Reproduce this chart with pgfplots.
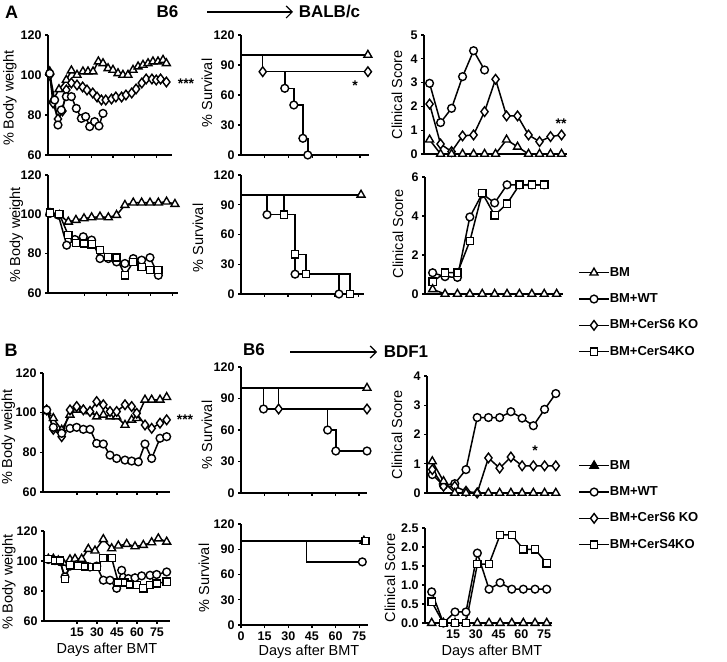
\documentclass[border=0pt]{standalone}
\usepackage{fontspec}
\setmainfont{Liberation Sans}
\usepackage{pgfplots}
\pgfplotsset{compat=1.18}
\usetikzlibrary{arrows.meta}
\pgfplotsset{
  panel/.style={scale only axis, anchor=south west,
    axis x line*=bottom, axis y line*=left,
    axis line style={line width=1.6pt,-},
    tick style={black,line width=1.3pt},
    tick align=outside, major tick length=3pt,
    ticklabel style={font=\bfseries\fontsize{12.5}{14}\selectfont},
    /pgf/number format/assume math mode=true,
    clip=false},
  noxl/.style={xticklabels={,,,,,,}},
  bm/.style={black,line width=1.5pt,mark=triangle*,mark size=4.6pt,mark options={fill=white,line width=1.4pt,solid}},
  wt/.style={black,line width=1.5pt,mark=*,mark size=3.9pt,mark options={fill=white,line width=1.4pt,solid}},
  s6/.style={black,line width=1.5pt,mark=diamond*,mark size=4.8pt,mark options={fill=white,line width=1.4pt,solid}},
  s4/.style={black,line width=1.5pt,mark=square*,mark size=3.6pt,mark options={fill=white,line width=1.4pt,solid}},
  mylegend/.style={legend cell align=left,
    legend image code/.code={\draw[mark repeat=2,mark phase=2,##1] plot coordinates {(0pt,0pt) (15pt,0pt) (30pt,0pt)};},
    legend style={draw=none,fill=none,inner sep=0pt,row sep=13.3pt,
      font=\bfseries\fontsize{13}{15}\selectfont,
      nodes={inner sep=0pt,text height=10pt,text depth=3pt},
      /tikz/every even column/.append style={column sep=9pt}}},
}
\newcommand{\ylab}[3]{\node[rotate=90,font=\fontsize{14.5}{16}\selectfont] at (#1pt,#2pt) {#3};}
\begin{document}
\begin{tikzpicture}
\useasboundingbox (0,0) rectangle (727pt,661pt);
% ---------------- headers
\node[font=\bfseries\fontsize{18}{20}\selectfont] at (11.5pt,649pt) {A};
\node[font=\bfseries\fontsize{17}{20}\selectfont] at (167.5pt,649pt) {B6};
\draw[line width=1.2pt,-{Straight Barb[length=6pt,width=12pt,line width=1.2pt]}] (207pt,649pt) -- (293pt,649pt);
\node[font=\bfseries\fontsize{17}{20}\selectfont] at (329.5pt,649pt) {BALB/c};
\node[font=\bfseries\fontsize{18}{20}\selectfont] at (11pt,311pt) {B};
\node[font=\bfseries\fontsize{17}{20}\selectfont] at (254pt,311pt) {B6};
\draw[line width=1.2pt,-{Straight Barb[length=6pt,width=12pt,line width=1.2pt]}] (290pt,309pt) -- (377pt,309pt);
\node[font=\bfseries\fontsize{17}{20}\selectfont] at (406pt,309pt) {BDF1};
% ---------------- axis labels
\ylab{10}{563}{\% Body weight}
\ylab{16.5}{426}{\% Body weight}
\ylab{8.5}{224}{\% Body weight}
\ylab{9}{79}{\% Body weight}
\ylab{207}{568}{\% Survival}
\ylab{198}{423}{\% Survival}
\ylab{207}{226}{\% Survival}
\ylab{204}{83}{\% Survival}
\ylab{397}{566}{Clinical Score}
\ylab{398}{427}{Clinical Score}
\ylab{397}{226}{Clinical Score}
\ylab{390}{83}{Clinical Score}
\node[font=\fontsize{14.5}{16}\selectfont] at (107pt,11pt) {Days after BMT};
\node[font=\fontsize{14.5}{16}\selectfont] at (309pt,9pt) {Days after BMT};
\node[font=\fontsize{14.5}{16}\selectfont] at (492pt,9pt) {Days after BMT};
% asterisks
\node[font=\bfseries\fontsize{14}{16}\selectfont] at (186pt,577pt) {***};
\node[font=\bfseries\fontsize{14}{16}\selectfont] at (355pt,575pt) {*};
\node[font=\bfseries\fontsize{14}{16}\selectfont] at (561pt,537pt) {**};
\node[font=\bfseries\fontsize{14}{16}\selectfont] at (185pt,241pt) {***};
\node[font=\bfseries\fontsize{14}{16}\selectfont] at (535pt,210pt) {*};

% ================= A1 body weight
\begin{axis}[panel, at={(48pt,506pt)}, width=124pt, height=120pt,
  xmin=0, xmax=85.9, ymin=60, ymax=120, ytick={60,80,100,120},
  xtick={15,30,45,60,75}, noxl]
\addplot[bm] coordinates {(1.2,101.7)(3.5,87.5)(7.6,92.8)(12.7,97.5)(16.2,102.2)(20.1,100)(24.2,101.7)(27.7,101.7)(31.2,101.7)(34.9,106.7)(38.1,105.8)(41.6,103.3)(45,102.5)(48.5,100.8)(51.9,100)(55.4,100)(58.9,102.5)(62.4,104.2)(65.8,105)(69.3,105.8)(72.7,106.7)(76.2,106.7)(79.7,107.5)(82,105.8)};
\addplot[s6] coordinates {(1.2,100)(3.5,86)(6.9,78)(10,82)(12.7,92.5)(16.2,96)(20.1,95)(24,94)(27,92.5)(31,91)(34,89)(37,87.5)(40,87.5)(44,88)(47,89)(51,89)(54,90)(58,91)(61,93)(65,96)(68,98)(72,98)(75,97.5)(78,98)(82,96.5)};
\addplot[wt] coordinates {(1.2,100.8)(4.6,87.5)(6.9,75)(9.2,82.5)(12.7,89.2)(16.2,89.2)(19.6,83.3)(23.1,78.3)(26.1,79.2)(28.9,74.2)(32.3,76.7)(35.3,74.5)(38.1,80.8)};
\end{axis}

% ================= A2 body weight
\begin{axis}[panel, at={(48pt,368pt)}, width=130pt, height=118pt,
  xmin=-9.75, xmax=78.9, ymin=60, ymax=120, ytick={60,80,100,120},
  xtick={15,30,45,60,75}, noxl]
\addplot[bm] coordinates {(-8.4,100.5)(-2,99.6)(4.1,96.2)(9.3,97.1)(14.8,97.9)(20,98.4)(25.7,98.8)(31.4,98.4)(37,99.6)(42.7,104.7)(48.4,105.9)(54.1,105.9)(59.8,105.9)(65.5,105.9)(71.1,106.4)(76.8,105.2)};
\addplot[wt] coordinates {(-8.4,100.5)(-2.7,99.6)(3,84.3)(8.6,87.2)(14.3,88.6)(20,86.9)(25.7,77.5)(31.4,77.5)(37,75.8)(42.7,75)(48.4,77.5)(54.1,76.7)(59.8,78)(65.5,69)};
\addplot[s4] coordinates {(-8.4,100.8)(-2,100.1)(4.1,89.4)(9.3,85.5)(14.8,85.2)(20,84.8)(25.7,81.8)(31.4,78.4)(37,78)(42.7,69)(48.4,75.8)(54.1,73.3)(59.8,71.6)(65.5,71.6)};
\end{axis}

% ================= A1 survival
\begin{axis}[panel, at={(241pt,506pt)}, width=128pt, height=120pt,
  xmin=0, xmax=80.7, ymin=0, ymax=120, ytick={0,30,60,90,120},
  xtick={15,30,45,60,75}, noxl]
\addplot[bm,mark=none] coordinates {(0,100)(80,100)};
\addplot[s6,mark=none,const plot] coordinates {(0,100)(13.7,83.3)(80,83.3)};
\addplot[wt,mark=none,const plot] coordinates {(0,100)(13.7,83.3)(27.6,66.7)(33.3,50)(39,16.7)(42.1,0)};
\addplot[bm,only marks] coordinates {(80,100)};
\addplot[s6,only marks] coordinates {(13.7,83.3)(80,83.3)};
\addplot[wt,only marks] coordinates {(27.6,66.7)(33.3,50)(39,16.7)(42.1,0)};
\end{axis}

% ================= A2 survival
\begin{axis}[panel, at={(241pt,367pt)}, width=123pt, height=119pt,
  xmin=0, xmax=78.5, ymin=0, ymax=120, ytick={0,30,60,90,120},
  xtick={15,30,45,60,75}, noxl]
\addplot[bm,mark=none] coordinates {(0,100)(76.6,100)};
\addplot[wt,mark=none,const plot] coordinates {(0,100)(16.6,80)(34.5,20)(62.5,0)};
\addplot[s4,mark=none,const plot] coordinates {(0,100)(27.4,80)(34.5,40)(41.5,20)(69.6,0)};
\addplot[bm,only marks] coordinates {(76.6,100)};
\addplot[wt,only marks] coordinates {(16.6,80)(34.5,20)(62.5,0)};
\addplot[s4,only marks] coordinates {(27.4,80)(34.5,40)(41.5,20)(69.6,0)};
\end{axis}

% ================= A1 clinical
\begin{axis}[panel, at={(424pt,507pt)}, width=143pt, height=119pt,
  xmin=-2.55, xmax=88.5, ymin=0, ymax=5, ytick={0,1,2,3,4,5}, xtick=\empty]
\addplot[wt] coordinates {(1,2.97)(8,1.32)(15,1.92)(22,3.25)(29,4.34)(36,3.53)};
\addplot[s6] coordinates {(1,2.1)(8,0.42)(15,0.1)(22,0.76)(29,0.8)(36,1.78)(43,3.14)(50,1.6)(57,1.6)(64,0.8)(71,0.52)(78,0.73)(85,0.8)};
\addplot[bm] coordinates {(1,0.6)(8,0)(15,0)(22,0)(29,0)(36,0)(43,0)(50,0.6)(57,0.3)(64,0)(71,0)(78,0)(85,0)};
\end{axis}

% ================= A2 clinical (+ legend A)
\begin{axis}[panel, at={(425pt,367pt)}, width=138pt, height=117pt,
  xmin=-3.3, xmax=74.6, ymin=0, ymax=6, ytick={0,2,4,6}, xtick=\empty,
  mylegend, legend style={at={(1.109,0.239)},anchor=north west}]
\addlegendimage{bm}\addlegendentry{BM}
\addlegendimage{wt}\addlegendentry{BM+WT}
\addlegendimage{s6}\addlegendentry{BM+CerS6 KO}
\addlegendimage{s4}\addlegendentry{BM+CerS4KO}
\addplot[wt,forget plot] coordinates {(1,1.09)(8,0.89)(15,0.85)(22,3.95)(29,5.14)(36,4.67)(43,5.6)(50,5.6)(57,5.6)(64,5.6)};
\addplot[s4,forget plot] coordinates {(1,0.63)(8,1.09)(15,1.09)(22,2.71)(29,5.18)(36,4.04)(43,4.63)(50,5.6)(57,5.6)(64,5.6)};
\addplot[bm,forget plot] coordinates {(1,0.24)(8,0)(15,0)(22,0)(29,0)(36,0)(43,0)(50,0)(57,0)(64,0)(71,0)};
\end{axis}

% ================= B1 body weight
\begin{axis}[panel, at={(43pt,169pt)}, width=127pt, height=119pt,
  xmin=-10.5, xmax=84.75, ymin=60, ymax=120, ytick={60,80,100,120},
  xtick={15,30,45,60,75}, noxl]
\addplot[bm] coordinates {(-7.75,100.6)(-2.75,97.2)(3.5,91.3)(9.75,98.9)(14.75,101.4)(19.75,101.4)(24.75,100.6)(29.75,98)(34.75,98.9)(39.75,98)(44.75,98)(51,93.8)(56,96.4)(59.75,97.2)(66,106.5)(71,106.5)(77.25,106.5)(82.25,107.8)};
\addplot[s6] coordinates {(-7.75,101.4)(-2.75,91.6)(3.5,87.9)(9.75,101.4)(14.75,103.1)(19.75,101.4)(24.75,100.6)(29.75,105.6)(34.75,104)(39.75,100.6)(44.75,100.6)(51,104)(56,103.1)(59.75,99.7)(66,93.8)(71,92.1)(77.25,94.7)(82.25,96.4)};
\addplot[wt] coordinates {(-7.75,101.4)(-2.75,92.6)(3.5,89.6)(9.75,92.1)(14.75,92.6)(19.75,91.6)(24.75,91.6)(29.75,84.5)(34.75,84.2)(39.75,78.6)(44.75,76.9)(51,76.1)(56,75.6)(61,75.2)(66,84.2)(71,76.9)(77.25,87.1)(82.25,87.9)};
\end{axis}

% ================= B2 body weight
\begin{axis}[panel, at={(44pt,40pt)}, width=126pt, height=90pt,
  xmin=-9.75, xmax=84.75, ymin=60, ymax=120, ytick={60,80,100,120},
  xtick={15,30,45,60,75}]
\addplot[bm] coordinates {(-6.5,101.4)(-2.75,101.4)(1,100.3)(4.75,98.8)(9.75,101)(13.5,101.4)(18.5,101.4)(23.5,108)(28.5,106.9)(34.75,114.5)(41,108.4)(46,110.2)(52.25,111.3)(58.5,109.7)(64.75,110.6)(71,112.4)(76,115)(82.25,112.8)};
\addplot[wt] coordinates {(-6.5,101)(-1.5,100.3)(2.25,99.7)(6,89.4)(9.75,96.6)(14.75,97.5)(19.75,96.6)(24.75,96)(29.75,96.6)(34.75,87.2)(39.75,87.2)(44.75,81.8)(48.5,93.8)(53.5,88.3)(58.5,88.8)(63.5,90.1)(69.75,90.5)(74.75,91)(82.25,92.7)};
\addplot[s4] coordinates {(-6.5,101.4)(-1.5,100.3)(2.25,100.3)(6,87.9)(9.75,97.1)(16,96.6)(21,96.4)(26,96)(29.75,96)(34.75,101.9)(41,101.9)(46,85.7)(51,85.7)(54.75,84.4)(59.75,84)(64.75,81.8)(69.75,84)(74.75,85)(82.25,86.2)};
\end{axis}

% ================= B1 survival
\begin{axis}[panel, at={(241pt,168pt)}, width=126pt, height=126pt,
  xmin=0, xmax=80, ymin=0, ymax=120, ytick={0,30,60,90,120},
  xtick={15,30,45,60,75}, noxl]
\addplot[bm,mark=none] coordinates {(0,100)(80,100)};
\addplot[s6,mark=none,const plot] coordinates {(0,100)(23.9,80)(80,80)};
\addplot[wt,mark=none,const plot] coordinates {(0,100)(14.3,80)(55,60)(60.2,40)(80,40)};
\addplot[bm,only marks] coordinates {(80,100)};
\addplot[s6,only marks] coordinates {(23.9,80)(80,80)};
\addplot[wt,only marks] coordinates {(14.3,80)(55,60)(60.2,40)(80,40)};
\end{axis}

% ================= B2 survival
\begin{axis}[panel, at={(241pt,36pt)}, width=127pt, height=101pt,
  xmin=0, xmax=80.6, ymin=0, ymax=120, ytick={0,30,60,90,120},
  xtick={0,15,30,45,60,75}]
\addplot[bm,mark=none] coordinates {(0,100)(79,100)};
\addplot[wt,mark=none,const plot] coordinates {(0,100)(41.7,75)(77,75)};
\addplot[bm,only marks] coordinates {(78,100)};
\addplot[s4,only marks] coordinates {(79,100)};
\addplot[wt,only marks] coordinates {(77,75)};
\end{axis}

% ================= B1 clinical
\begin{axis}[panel, at={(427pt,168pt)}, width=132pt, height=117pt,
  xmin=-2.3, xmax=80, ymin=0, ymax=4, ytick={0,1,2,3,4}, xtick=\empty]
\addplot[wt] coordinates {(1,0.63)(8,0.26)(15,0.32)(22,0.8)(29,2.58)(36,2.58)(43,2.58)(50,2.78)(57,2.56)(64,2.3)(71,2.86)(78,3.4)};
\addplot[s6] coordinates {(1,0.8)(8,0.23)(15,0.23)(22,0.06)(29,0)(36,1.2)(43,0.85)(50,1.23)(57,0.93)(64,0.93)(71,0.93)(78,0.93)};
\addplot[bm] coordinates {(1,1.08)(8,0.4)(15,0)(22,0)(29,0)(36,0)(43,0)(50,0)(57,0)(64,0)(71,0)(78,0)};
\end{axis}

% ================= B2 clinical (+ legend B)
\begin{axis}[panel, at={(425pt,38pt)}, width=127pt, height=95pt,
  xmin=-3.5, xmax=80.2, ymin=0, ymax=2.5, ytick={0,0.5,1,1.5,2,2.5},
  yticklabel style={/pgf/number format/.cd,fixed,fixed zerofill,precision=1},
  xtick={15,30,45,60,75},
  mylegend, legend style={at={(1.206,1.726)},anchor=north west}]
\addlegendimage{bm,mark options={fill=black}}\addlegendentry{BM}
\addlegendimage{wt}\addlegendentry{BM+WT}
\addlegendimage{s6}\addlegendentry{BM+CerS6 KO}
\addlegendimage{s4}\addlegendentry{BM+CerS4KO}
\addplot[bm,forget plot] coordinates {(0.9,0)(8.6,0)(16.3,0)(23.5,0)(31,0)(38.7,0)(46,0)(53.7,0)(61.3,0)(69,0)(76.7,0)};
\addplot[wt,forget plot] coordinates {(0.9,0.82)(8.6,0)(16.3,0.29)(23.5,0.29)(31,1.84)(38.7,0.89)(46,1.06)(53.7,0.89)(61.3,0.89)(69,0.89)(76.7,0.89)};
\addplot[s4,forget plot] coordinates {(0.9,0.56)(8.6,0)(16.3,0)(23.5,0)(31,1.55)(38.7,1.55)(46,2.32)(53.7,2.32)(61.3,1.94)(69,1.94)(76.7,1.57)};
\end{axis}
\end{tikzpicture}
\end{document}
